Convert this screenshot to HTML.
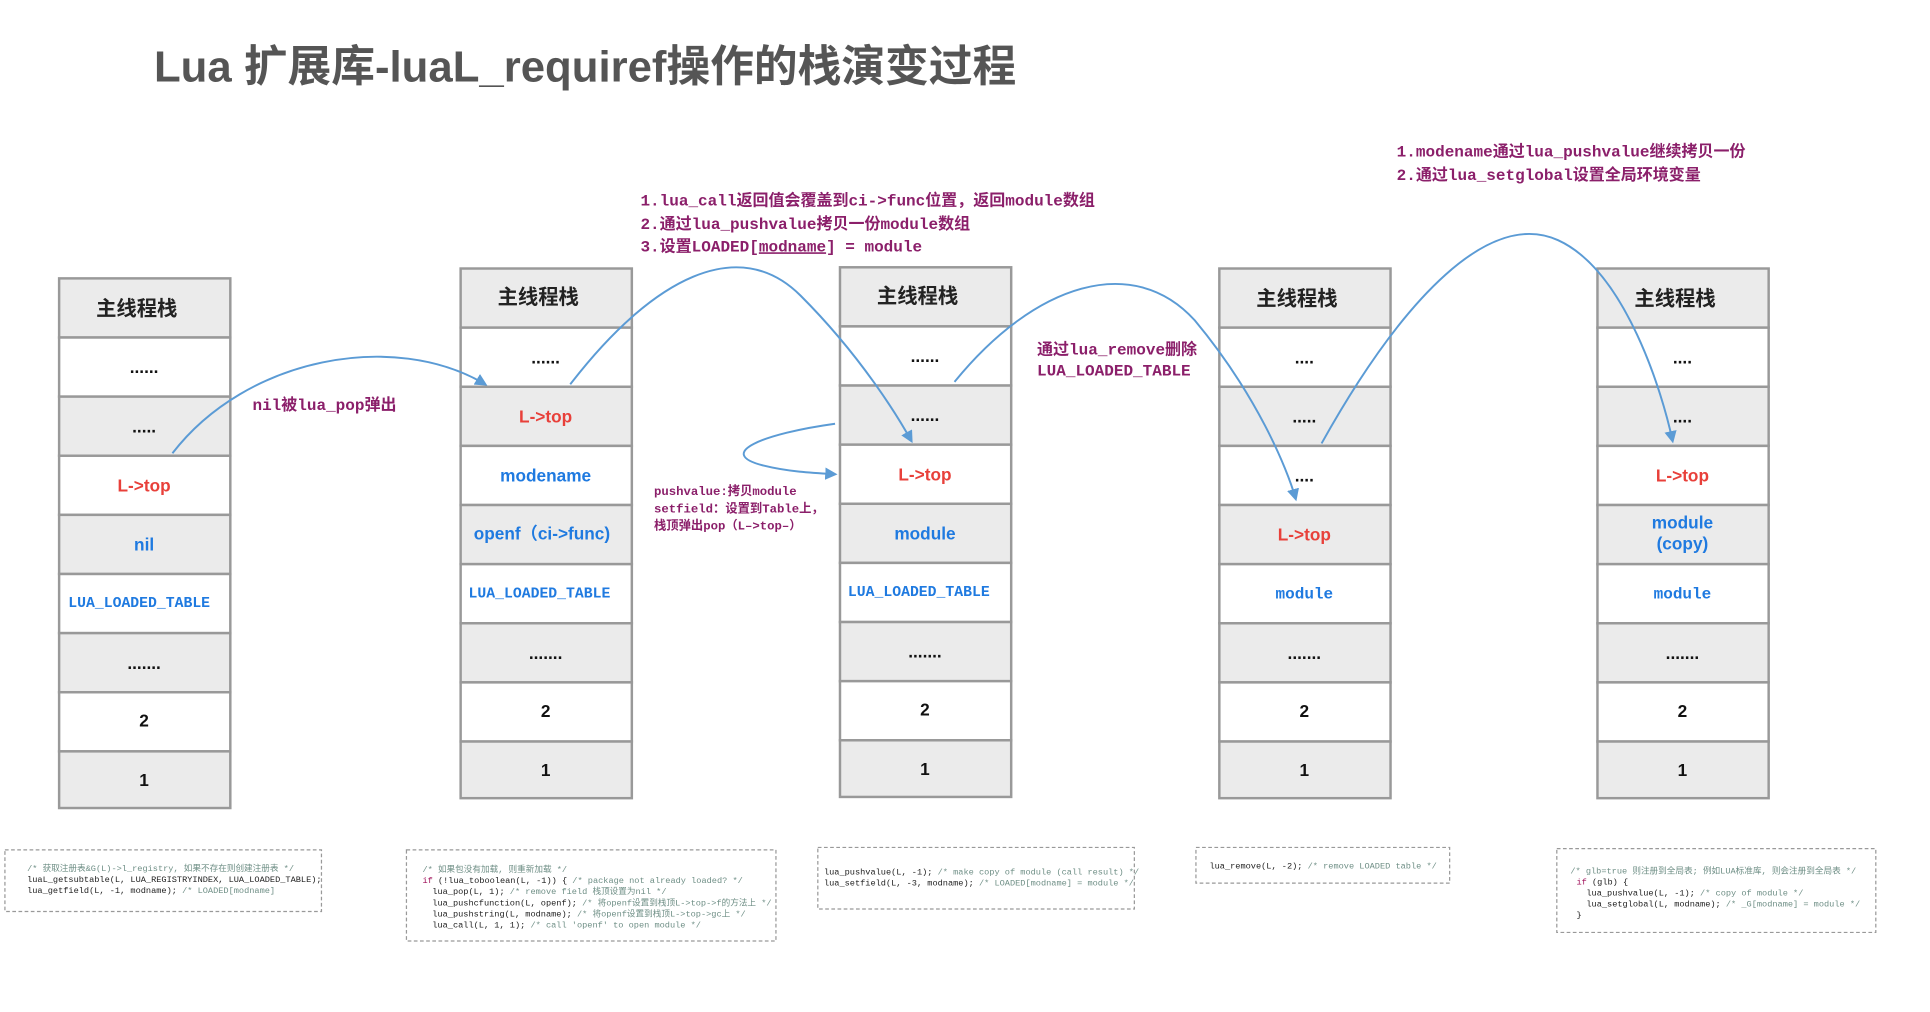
<!DOCTYPE html>
<html><head><meta charset="utf-8"><style>
html,body{margin:0;padding:0;background:#fff;width:1930px;height:1012px;overflow:hidden}
svg{display:block}
.h{font-family:"Liberation Sans","Noto Sans CJK SC",sans-serif;font-size:16.5px;fill:#222;text-anchor:middle;font-weight:bold}
.c{font-family:"Liberation Sans","Noto Sans CJK SC",sans-serif;font-size:14px;font-weight:bold;text-anchor:middle}
.lb{font-family:"Liberation Mono","Noto Sans CJK SC",monospace;font-size:13px;font-weight:bold;fill:#8b1f6a}
.cd{font-family:"Liberation Mono","Noto Sans CJK SC",monospace;font-size:7px;fill:#222}
.cm{fill:#6f8f86}
.kw{fill:#a0105a}
.ar{fill:none;stroke:#5b9bd5;stroke-width:1.6}
</style></head><body>
<svg width="1930" height="1012" viewBox="0 0 1567 821.6" preserveAspectRatio="none" xmlns="http://www.w3.org/2000/svg">
<defs><marker id="a" markerWidth="10" markerHeight="10" refX="8" refY="5" orient="auto" markerUnits="userSpaceOnUse"><path d="M0,0 L10,5 L0,10 Z" fill="#5b9bd5"/></marker></defs>
<text x="125" y="66" font-family="Liberation Sans,Noto Sans CJK SC,sans-serif" font-size="35.5" font-weight="bold" fill="#555">Lua 扩展库-luaL_requiref操作的栈演变过程</text>

<g stroke="#999" stroke-width="2">
<g>
<rect x="48" y="226" width="139" height="48" fill="#ebebeb"/><rect x="48" y="274" width="139" height="48" fill="#fff"/><rect x="48" y="322" width="139" height="48" fill="#ebebeb"/><rect x="48" y="370" width="139" height="48" fill="#fff"/><rect x="48" y="418" width="139" height="48" fill="#ebebeb"/><rect x="48" y="466" width="139" height="48" fill="#fff"/><rect x="48" y="514" width="139" height="48" fill="#ebebeb"/><rect x="48" y="562" width="139" height="48" fill="#fff"/><rect x="48" y="610" width="139" height="46" fill="#ebebeb"/>
</g>
<g>
<rect x="374" y="218" width="139" height="48" fill="#ebebeb"/><rect x="374" y="266" width="139" height="48" fill="#fff"/><rect x="374" y="314" width="139" height="48" fill="#ebebeb"/><rect x="374" y="362" width="139" height="48" fill="#fff"/><rect x="374" y="410" width="139" height="48" fill="#ebebeb"/><rect x="374" y="458" width="139" height="48" fill="#fff"/><rect x="374" y="506" width="139" height="48" fill="#ebebeb"/><rect x="374" y="554" width="139" height="48" fill="#fff"/><rect x="374" y="602" width="139" height="46" fill="#ebebeb"/>
</g>
<g>
<rect x="682" y="217" width="139" height="48" fill="#ebebeb"/><rect x="682" y="265" width="139" height="48" fill="#fff"/><rect x="682" y="313" width="139" height="48" fill="#ebebeb"/><rect x="682" y="361" width="139" height="48" fill="#fff"/><rect x="682" y="409" width="139" height="48" fill="#ebebeb"/><rect x="682" y="457" width="139" height="48" fill="#fff"/><rect x="682" y="505" width="139" height="48" fill="#ebebeb"/><rect x="682" y="553" width="139" height="48" fill="#fff"/><rect x="682" y="601" width="139" height="46" fill="#ebebeb"/>
</g>
<g>
<rect x="990" y="218" width="139" height="48" fill="#ebebeb"/><rect x="990" y="266" width="139" height="48" fill="#fff"/><rect x="990" y="314" width="139" height="48" fill="#ebebeb"/><rect x="990" y="362" width="139" height="48" fill="#fff"/><rect x="990" y="410" width="139" height="48" fill="#ebebeb"/><rect x="990" y="458" width="139" height="48" fill="#fff"/><rect x="990" y="506" width="139" height="48" fill="#ebebeb"/><rect x="990" y="554" width="139" height="48" fill="#fff"/><rect x="990" y="602" width="139" height="46" fill="#ebebeb"/>
</g>
<g>
<rect x="1297" y="218" width="139" height="48" fill="#ebebeb"/><rect x="1297" y="266" width="139" height="48" fill="#fff"/><rect x="1297" y="314" width="139" height="48" fill="#ebebeb"/><rect x="1297" y="362" width="139" height="48" fill="#fff"/><rect x="1297" y="410" width="139" height="48" fill="#ebebeb"/><rect x="1297" y="458" width="139" height="48" fill="#fff"/><rect x="1297" y="506" width="139" height="48" fill="#ebebeb"/><rect x="1297" y="554" width="139" height="48" fill="#fff"/><rect x="1297" y="602" width="139" height="46" fill="#ebebeb"/>
</g>
</g>

<text class="h" x="111" y="256">主线程栈</text>
<text class="c" x="117" y="303" fill="#111">......</text>
<text class="c" x="117" y="351" fill="#111">.....</text>
<text class="c" x="117" y="399" fill="#e8403a">L-&gt;top</text>
<text class="c" x="117" y="447" fill="#1f7ae0">nil</text>
<text class="c" x="113" y="493" fill="#1f7ae0" style="font-family:'Liberation Mono',monospace;font-size:12px">LUA_LOADED_TABLE</text>
<text class="c" x="117" y="543" fill="#111">.......</text>
<text class="c" x="117" y="590" fill="#111">2</text>
<text class="c" x="117" y="638" fill="#111">1</text>

<text class="h" x="437" y="247">主线程栈</text>
<text class="c" x="443" y="295" fill="#111">......</text>
<text class="c" x="443" y="343" fill="#e8403a">L-&gt;top</text>
<text class="c" x="443" y="391" fill="#1f7ae0">modename</text>
<text class="c" x="440" y="438" fill="#1f7ae0">openf（ci-&gt;func)</text>
<text class="c" x="438" y="485" fill="#1f7ae0" style="font-family:'Liberation Mono',monospace;font-size:12px">LUA_LOADED_TABLE</text>
<text class="c" x="443" y="535" fill="#111">.......</text>
<text class="c" x="443" y="582" fill="#111">2</text>
<text class="c" x="443" y="630" fill="#111">1</text>

<text class="h" x="745" y="246">主线程栈</text>
<text class="c" x="751" y="294" fill="#111">......</text>
<text class="c" x="751" y="342" fill="#111">......</text>
<text class="c" x="751" y="390" fill="#e8403a">L-&gt;top</text>
<text class="c" x="751" y="438" fill="#1f7ae0">module</text>
<text class="c" x="746" y="484" fill="#1f7ae0" style="font-family:'Liberation Mono',monospace;font-size:12px">LUA_LOADED_TABLE</text>
<text class="c" x="751" y="534" fill="#111">.......</text>
<text class="c" x="751" y="581" fill="#111">2</text>
<text class="c" x="751" y="629" fill="#111">1</text>

<text class="h" x="1053" y="248">主线程栈</text>
<text class="c" x="1059" y="295" fill="#111">....</text>
<text class="c" x="1059" y="343" fill="#111">.....</text>
<text class="c" x="1059" y="391" fill="#111">....</text>
<text class="c" x="1059" y="439" fill="#e8403a">L-&gt;top</text>
<text class="c" x="1059" y="486" fill="#1f7ae0" style="font-family:'Liberation Mono',monospace;font-size:13px">module</text>
<text class="c" x="1059" y="535" fill="#111">.......</text>
<text class="c" x="1059" y="582" fill="#111">2</text>
<text class="c" x="1059" y="630" fill="#111">1</text>

<text class="h" x="1360" y="248">主线程栈</text>
<text class="c" x="1366" y="295" fill="#111">....</text>
<text class="c" x="1366" y="343" fill="#111">....</text>
<text class="c" x="1366" y="391" fill="#e8403a">L-&gt;top</text>
<text class="c" x="1366" y="429" fill="#1f7ae0">module</text>
<text class="c" x="1366" y="446" fill="#1f7ae0">(copy)</text>
<text class="c" x="1366" y="486" fill="#1f7ae0" style="font-family:'Liberation Mono',monospace;font-size:13px">module</text>
<text class="c" x="1366" y="535" fill="#111">.......</text>
<text class="c" x="1366" y="582" fill="#111">2</text>
<text class="c" x="1366" y="630" fill="#111">1</text>

<text class="lb" x="205" y="333">nil被lua_pop弹出</text>
<text class="lb" x="520" y="167">1.lua_call返回值会覆盖到ci-&gt;func位置，返回module数组</text>
<text class="lb" x="520" y="186">2.通过lua_pushvalue拷贝一份module数组</text>
<text class="lb" x="520" y="204">3.设置LOADED[<tspan text-decoration="underline">modname</tspan>] = module</text>
<text class="lb" x="842" y="288">通过lua_remove删除</text>
<text class="lb" x="842" y="305">LUA_LOADED_TABLE</text>
<text class="lb" x="1134" y="127">1.modename通过lua_pushvalue继续拷贝一份</text>
<text class="lb" x="1134" y="146">2.通过lua_setglobal设置全局环境变量</text>
<text class="lb" x="531" y="402" style="font-size:10px">pushvalue:拷贝module</text>
<text class="lb" x="531" y="416" style="font-size:10px">setfield：设置到Table上，</text>
<text class="lb" x="531" y="430" style="font-size:10px">栈顶弹出pop（L–&gt;top–）</text>

<path class="ar" marker-end="url(#a)" d="M140,368 C200,290 320,268 394,312"/>
<path class="ar" marker-end="url(#a)" d="M463,312 C530,225 600,190 650,240 C700,290 730,340 740,358"/>
<path class="ar" marker-end="url(#a)" d="M678,344 C620,352 580,368 620,378 C640,383 660,384 678,385"/>
<path class="ar" marker-end="url(#a)" d="M775,310 C840,230 920,205 970,260 C1020,320 1045,380 1052,405"/>
<path class="ar" marker-end="url(#a)" d="M1073,360 C1140,240 1210,170 1265,195 C1320,220 1350,320 1358,358"/>

<g fill="none" stroke="#999" stroke-width="1" stroke-dasharray="3,2">
<rect x="4" y="690" width="257" height="50"/>
<rect x="330" y="690" width="300" height="74"/>
<rect x="664" y="688" width="257" height="50"/>
<rect x="971" y="688" width="206" height="29"/>
<rect x="1264" y="689" width="259" height="68"/>
</g>
<text class="cd" x="22" y="707"><tspan class="cm">/* 获取注册表&amp;G(L)-&gt;l_registry, 如果不存在则创建注册表 */</tspan></text>
<text class="cd" x="22" y="716">luaL_getsubtable(L, LUA_REGISTRYINDEX, LUA_LOADED_TABLE);</text>
<text class="cd" x="22" y="725">lua_getfield(L, -1, modname);  <tspan class="cm">/* LOADED[modname]</tspan></text>

<text class="cd" x="343" y="708"><tspan class="cm">/* 如果包没有加载, 则重新加载 */</tspan></text>
<text class="cd" x="343" y="717"><tspan class="kw">if</tspan> (!lua_toboolean(L, -1)) {  <tspan class="cm">/* package not already loaded? */</tspan></text>
<text class="cd" x="351" y="726">lua_pop(L, 1);  <tspan class="cm">/* remove field 栈顶设置为nil */</tspan></text>
<text class="cd" x="351" y="735">lua_pushcfunction(L, openf); <tspan class="cm">/* 将openf设置到栈顶L-&gt;top-&gt;f的方法上 */</tspan></text>
<text class="cd" x="351" y="744">lua_pushstring(L, modname);  <tspan class="cm">/* 将openf设置到栈顶L-&gt;top-&gt;gc上 */</tspan></text>
<text class="cd" x="351" y="753">lua_call(L, 1, 1);  <tspan class="cm">/* call 'openf' to open module */</tspan></text>

<text class="cd" x="669" y="710">lua_pushvalue(L, -1);  <tspan class="cm">/* make copy of module (call result) */</tspan></text>
<text class="cd" x="669" y="719">lua_setfield(L, -3, modname);  <tspan class="cm">/* LOADED[modname] = module */</tspan></text>

<text class="cd" x="982" y="705">lua_remove(L, -2);  <tspan class="cm">/* remove LOADED table */</tspan></text>

<text class="cd" x="1275" y="709"><tspan class="cm">/* glb=true 则注册到全局表; 例如LUA标准库, 则会注册到全局表 */</tspan></text>
<text class="cd" x="1280" y="718"><tspan class="kw">if</tspan> (glb) {</text>
<text class="cd" x="1288" y="727">lua_pushvalue(L, -1);  <tspan class="cm">/* copy of module */</tspan></text>
<text class="cd" x="1288" y="736">lua_setglobal(L, modname);  <tspan class="cm">/* _G[modname] = module */</tspan></text>
<text class="cd" x="1280" y="745">}</text>
</svg>
</body></html>
